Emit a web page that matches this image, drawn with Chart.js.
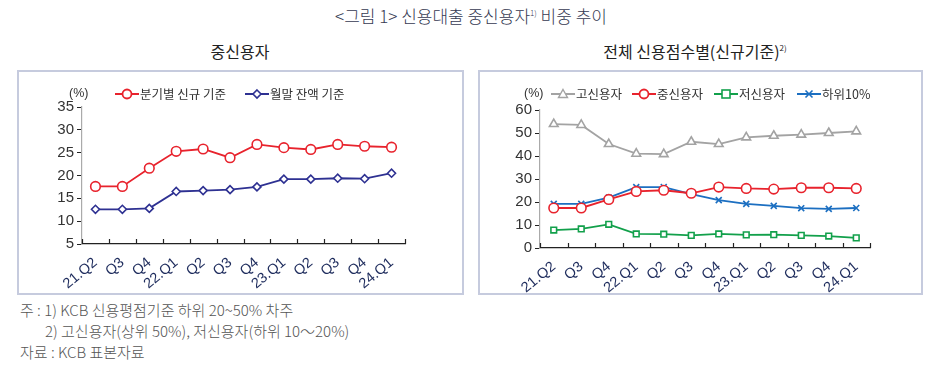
<!DOCTYPE html>
<html>
<head>
<meta charset="utf-8">
<script src="https://cdn.jsdelivr.net/npm/chart.js@4"></script>
<style>
  body { margin: 0; background: #fff; font-family: "Noto Sans CJK KR", sans-serif; }
  #wrap { position: relative; width: 942px; height: 379px; overflow: hidden; }
  .abs { position: absolute; white-space: nowrap; }
  .title { left: 0; width: 942px; top: 3px; text-align: center; font-size: 17px; color: #363a52; font-weight: 300; }
  .sub { top: 39px; font-size: 16px; color: #222; text-align: center; }
  sup { font-size: 8px; vertical-align: 7px; }
  .box { position: absolute; border: 2px solid #c6cbde; box-sizing: border-box; }
  .leg { position: absolute; font-size: 12.5px; color: #333; line-height: 16px; display: flex; align-items: center; }
  .leg svg { margin-right: 1px; }
  .unit { font-family: "Liberation Sans", Arial, sans-serif; font-size: 12.5px; color: #333; }
  .note { font-size: 15px; color: #555; left: 20px; font-weight: 300; }
  canvas { position: absolute; }
</style>
</head>
<body>
<div id="wrap">
  <div class="abs title">&lt;그림 1&gt; 신용대출 중신용자<sup>1)</sup> 비중 추이</div>
  <div class="abs sub" style="left:140px;width:200px;">중신용자</div>
  <div class="abs sub" style="left:570px;width:250px;">전체 신용점수별(신규기준)<sup>2)</sup></div>

  <div class="box" style="left:17px;top:70px;width:447px;height:225px;"></div>
  <div class="box" style="left:478px;top:70px;width:445px;height:225px;"></div>

  <canvas id="midChart" style="left:17px;top:70px;" width="446" height="225"></canvas>
  <canvas id="allChart" style="left:478px;top:70px;" width="444" height="225"></canvas>

  <div class="abs unit" style="left:69px;top:86px;">(%)</div>
  <div class="leg" style="left:115px;top:86px;" id="legMid1"></div>
  <div class="leg" style="left:245px;top:86px;" id="legMid2"></div>

  <div class="abs unit" style="left:524px;top:86px;">(%)</div>
  <div class="leg" style="left:551px;top:86px;" id="legAll1"></div>
  <div class="leg" style="left:632px;top:86px;" id="legAll2"></div>
  <div class="leg" style="left:714px;top:86px;" id="legAll3"></div>
  <div class="leg" style="left:797px;top:86px;" id="legAll4"></div>

  <div class="abs note" style="top:299px;">주 : 1) KCB 신용평점기준 하위 20~50% 차주</div>
  <div class="abs note" style="top:320px;left:45px;">2) 고신용자(상위 50%), 저신용자(하위 10～20%)</div>
  <div class="abs note" style="top:341px;">자료 : KCB 표본자료</div>
</div>

<script>
/* DATA */
const quarters = ["21.Q2", "Q3", "Q4", "22.Q1", "Q2", "Q3", "Q4", "23.Q1", "Q2", "Q3", "Q4", "24.Q1"];

const midNew = [17.6, 17.6, 21.6, 25.3, 25.8, 23.9, 26.8, 26.1, 25.7, 26.8, 26.4, 26.2];
const midBalance = [12.6, 12.6, 12.8, 16.5, 16.7, 16.9, 17.5, 19.2, 19.2, 19.4, 19.3, 20.5];

const highScore = [53.9, 53.5, 45.2, 41.0, 40.8, 46.2, 45.2, 48.1, 48.8, 49.3, 50.0, 50.7];
const midScore = [17.4, 17.4, 21.1, 24.6, 25.1, 23.8, 26.5, 25.9, 25.6, 26.2, 26.2, 25.9];
const lowScore = [7.8, 8.3, 10.3, 6.1, 6.0, 5.5, 6.1, 5.7, 5.8, 5.5, 5.2, 4.4];
const bottom10 = [19.2, 19.2, 21.9, 26.5, 26.5, 23.4, 20.8, 19.2, 18.3, 17.3, 17.0, 17.4];

const midTicks = [5, 10, 15, 20, 25, 30, 35];
const allTicks = [0, 10, 20, 30, 40, 50, 60];

/* COLORS */
const RED = "#e8232d";
const NAVY = "#2e3192";
const GRAY = "#a3a3a3";
const GREEN = "#12a04b";
const BLUE = "#1c6fc1";

/* LEGENDS */
function markerSvg(color, style) {
  let m = "";
  if (style === "circle") m = `<circle cx="12" cy="6" r="4.5" fill="#fff" stroke="${color}" stroke-width="1.8"/>`;
  if (style === "rectRot") m = `<polygon points="12,2 16,6 12,10 8,6" fill="#fff" stroke="${color}" stroke-width="1.6"/>`;
  if (style === "triangle") m = `<polygon points="12,1.5 16.5,9.5 7.5,9.5" fill="#fff" stroke="${color}" stroke-width="1.4"/>`;
  if (style === "rect") m = `<rect x="8" y="2" width="8" height="8" fill="#fff" stroke="${color}" stroke-width="1.6"/>`;
  if (style === "crossRot") m = `<path d="M8.5 2.5 L15.5 9.5 M15.5 2.5 L8.5 9.5" stroke="${color}" stroke-width="1.6"/>`;
  return `<svg width="24" height="12"><line x1="0" y1="6" x2="24" y2="6" stroke="${color}" stroke-width="2"/>${m}</svg>`;
}
function fillLegend(id, color, style, text) {
  document.getElementById(id).innerHTML = markerSvg(color, style) + `<span>${text}</span>`;
}
fillLegend("legMid1", RED, "circle", "분기별 신규 기준");
fillLegend("legMid2", NAVY, "rectRot", "월말 잔액 기준");
fillLegend("legAll1", GRAY, "triangle", "고신용자");
fillLegend("legAll2", RED, "circle", "중신용자");
fillLegend("legAll3", GREEN, "rect", "저신용자");
fillLegend("legAll4", BLUE, "crossRot", "하위10%");

/* inward tick marks between categories on the x axis */
const innerTicks = {
  id: "innerTicks",
  afterDatasetsDraw(chart) {
    const x = chart.scales.x;
    const ctx = chart.ctx;
    ctx.save();
    ctx.strokeStyle = "#222";
    ctx.lineWidth = 1.2;
    for (let i = 0; i <= quarters.length; i++) {
      const px = Math.round(x.getPixelForValue(i - 0.5)) + 0.5;
      ctx.beginPath();
      ctx.moveTo(px, x.top);
      ctx.lineTo(px, x.top - 5);
      ctx.stroke();
    }
    ctx.restore();
  },
};

function ds(data, color, style, radius) {
  return {
    data,
    borderColor: color,
    backgroundColor: "#fff",
    borderWidth: 1.8,
    pointStyle: style,
    pointRadius: radius,
    pointBorderWidth: 1.6,
    pointBackgroundColor: "#fff",
    pointBorderColor: color,
    tension: 0,
  };
}

function makeOptions(ticks, padding, yWidth, xHeight) {
  return {
    responsive: false,
    animation: false,
    layout: { padding },
    plugins: { legend: { display: false }, tooltip: { enabled: false } },
    scales: {
      x: {
        offset: true,
        grid: { display: false },
        border: { color: "#222", width: 1.2 },
        ticks: {
          autoSkip: false,
          minRotation: 40,
          maxRotation: 40,
          color: "#1d2b5c",
          padding: 2,
          font: { family: "Liberation Sans", size: 14.5 },
        },
        afterFit: (s) => { s.height = xHeight; },
      },
      y: {
        min: ticks[0],
        max: ticks[ticks.length - 1],
        afterBuildTicks: (s) => { s.ticks = ticks.map((v) => ({ value: v })); },
        grid: { drawOnChartArea: false, drawTicks: true, tickLength: 5, color: "#222" },
        border: { color: "#aaa", width: 1.2 },
        ticks: {
          color: "#333",
          padding: 3,
          font: { family: "Liberation Sans", size: 15 },
        },
        afterFit: (s) => { s.width = yWidth; },
      },
    },
  };
}

new Chart(document.getElementById("midChart"), {
  type: "line",
  data: {
    labels: quarters,
    datasets: [
      ds(midNew, RED, "circle", 4.8),
      ds(midBalance, NAVY, "rectRot", 4),
    ],
  },
  options: makeOptions(midTicks, { left: 0, top: 37, right: 58, bottom: 6 }, 65, 45),
  plugins: [innerTicks],
});

new Chart(document.getElementById("allChart"), {
  type: "line",
  data: {
    labels: quarters,
    datasets: [
      ds(highScore, GRAY, "triangle", 5),
      ds(midScore, RED, "circle", 4.8),
      ds(lowScore, GREEN, "rect", 4),
      ds(bottom10, BLUE, "crossRot", 4.2),
    ],
  },
  options: makeOptions(allTicks, { left: 0, top: 40, right: 52, bottom: 2 }, 62, 45),
  plugins: [innerTicks],
});
</script>
</body>
</html>
